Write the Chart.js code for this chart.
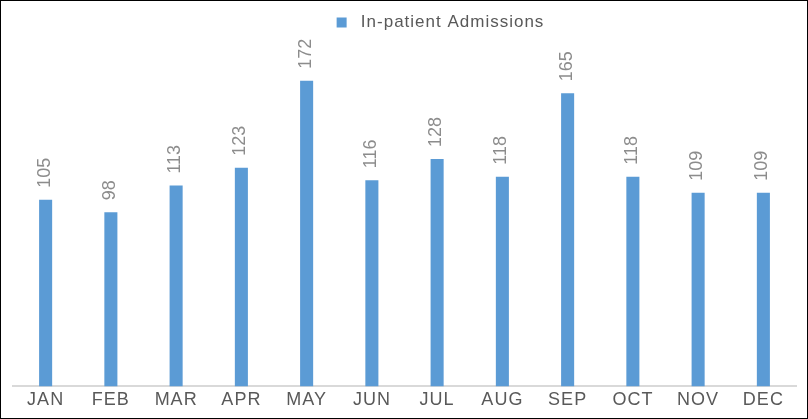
<!DOCTYPE html>
<html>
<head>
<meta charset="utf-8">
<script src="https://cdn.jsdelivr.net/npm/chart.js@4"></script>
<style>
  html, body { margin: 0; padding: 0; background: #fff; }
  #wrap { width: 808px; height: 419px; box-sizing: border-box; border: 1px solid #000; }
</style>
</head>
<body>
<div id="wrap"><canvas id="myChart" width="806" height="417"></canvas></div>
<script>
const months = ['JAN', 'FEB', 'MAR', 'APR', 'MAY', 'JUN', 'JUL', 'AUG', 'SEP', 'OCT', 'NOV', 'DEC'];
const admissions = [105, 98, 113, 123, 172, 116, 128, 118, 165, 118, 109, 109];
const seriesName = 'In-patient Admissions';

// draw the values rotated above each bar
const barLabels = {
    id: 'barLabels',
    afterDatasetsDraw(chart) {
        const ctx = chart.ctx;
        const meta = chart.getDatasetMeta(0);
        ctx.save();
        ctx.letterSpacing = '0px';
        ctx.font = '18px "Liberation Sans", Arial, sans-serif';
        ctx.fillStyle = '#8c8c8c';
        ctx.textAlign = 'left';
        ctx.textBaseline = 'middle';
        meta.data.forEach((bar, i) => {
            ctx.save();
            ctx.translate(bar.x - 1, bar.y - 12);
            ctx.rotate(-Math.PI / 2);
            ctx.fillText(String(admissions[i]), 0, 0);
            ctx.restore();
        });
        ctx.restore();
    }
};

// ticks and legend text are drawn a little spaced out
const spacing = {
    id: 'spacing',
    beforeDraw(chart) { chart.ctx.letterSpacing = '1px'; },
    afterLayout(chart) {
        // legend sits right of centre in the original
        chart.legend.left += 25;
        chart.legend.right += 25;
    }
};

const ctx = document.getElementById('myChart').getContext('2d');
const myChart = new Chart(ctx, {
    type: 'bar',
    data: {
        labels: months,
        datasets: [{
            label: seriesName,
            data: admissions,
            backgroundColor: '#5b9bd5',
            barPercentage: 0.2,
            categoryPercentage: 1
        }]
    },
    options: {
        responsive: false,
        animation: false,
        layout: { padding: { left: 12, right: 11, top: 0, bottom: 4 } },
        plugins: {
            tooltip: { enabled: false },
            legend: {
                maxHeight: 30,
                labels: {
                    boxWidth: 10,
                    boxHeight: 10,
                    color: '#595959',
                    font: { size: 17, family: '"Liberation Sans", Arial, sans-serif' },
                    padding: 13,
                    generateLabels(chart) {
                        return Chart.defaults.plugins.legend.labels.generateLabels(chart)
                            .map(item => Object.assign(item, { text: ' ' + item.text }));
                    }
                }
            }
        },
        scales: {
            x: {
                grid: { display: false, drawTicks: false },
                border: { color: '#d9d9d9', width: 2 },
                ticks: {
                    color: '#595959',
                    font: { size: 18, family: '"Liberation Sans", Arial, sans-serif' },
                    padding: 3
                }
            },
            y: {
                display: false,
                min: 0,
                max: 200
            }
        }
    },
    plugins: [spacing, barLabels]
});
</script>
</body>
</html>
